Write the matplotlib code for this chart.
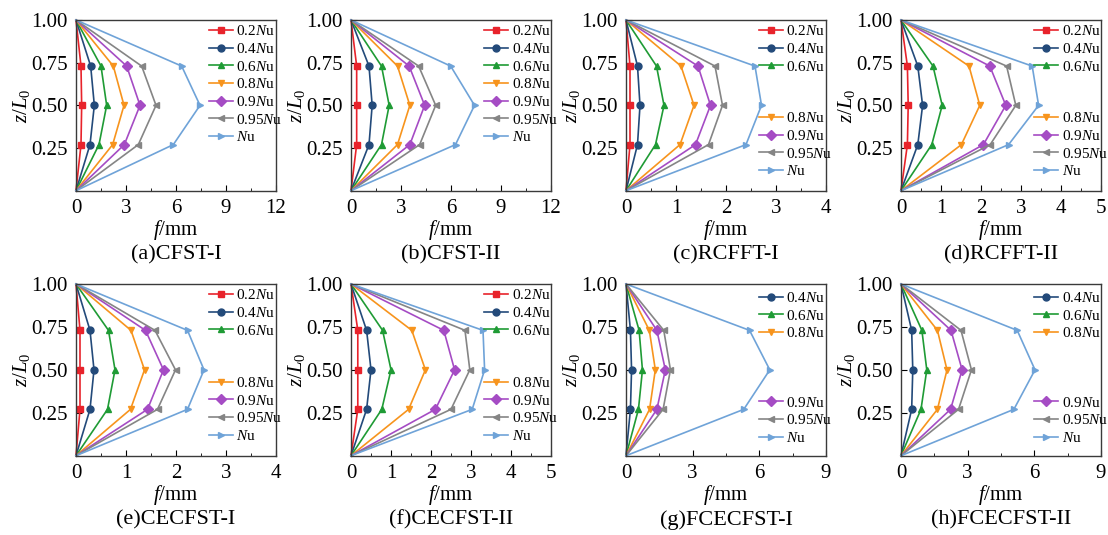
"""Lateral deflection profiles along column height, 8 specimen types."""
import numpy as np
import matplotlib
matplotlib.use("Agg")
import matplotlib.pyplot as plt
from matplotlib.lines import Line2D
from matplotlib.ticker import MultipleLocator

plt.rcParams.update({
    "font.family": "Liberation Serif",
    "mathtext.fontset": "custom",
    "mathtext.rm": "Liberation Serif",
    "mathtext.it": "Liberation Serif:italic",
    "font.size": 15,
    "axes.linewidth": 1.0,
    "axes.edgecolor": "#3a3a3a",
    "xtick.direction": "in",
    "ytick.direction": "in",
})

# relative height of the measuring points
Z_POINTS = [0.0, 0.27, 0.50, 0.73, 1.0]

LEVELS_ALL = ["0.2", "0.4", "0.6", "0.8", "0.9", "0.95", ""]
LEVELS_FC = ["0.4", "0.6", "0.8", "0.9", "0.95", ""]

COLORS = {"0.2": "#e8232b", "0.4": "#234a7a", "0.6": "#1f9b35", "0.8": "#f7941d",
          "0.9": "#a54cc4", "0.95": "#858585", "": "#6fa3d8"}
MARKERS = {"0.2": "s", "0.4": "o", "0.6": "^", "0.8": "v",
           "0.9": "D", "0.95": "<", "": ">"}

# deflection f (mm) at Z_POINTS, one row per load level
CFST_I = [
    [0, 0.30, 0.34, 0.30, 0],
    [0, 0.84, 1.10, 0.88, 0],
    [0, 1.38, 1.84, 1.50, 0],
    [0, 2.20, 2.88, 2.24, 0],
    [0, 2.90, 3.84, 3.04, 0],
    [0, 3.74, 4.80, 3.94, 0],
    [0, 5.84, 7.44, 6.34, 0],
]
CFST_II = [
    [0, 0.34, 0.34, 0.34, 0],
    [0, 1.08, 1.27, 1.08, 0],
    [0, 1.83, 2.29, 1.83, 0],
    [0, 2.79, 3.53, 2.79, 0],
    [0, 3.53, 4.42, 3.49, 0],
    [0, 4.12, 5.08, 4.06, 0],
    [0, 6.27, 7.41, 5.98, 0],
]
RCFFT_I = [
    [0, 0.08, 0.08, 0.08, 0],
    [0, 0.23, 0.28, 0.23, 0],
    [0, 0.59, 0.76, 0.61, 0],
    [0, 1.08, 1.36, 1.10, 0],
    [0, 1.39, 1.69, 1.44, 0],
    [0, 1.65, 1.93, 1.78, 0],
    [0, 2.40, 2.71, 2.58, 0],
]
RCFFT_II = [
    [0, 0.16, 0.18, 0.16, 0],
    [0, 0.42, 0.54, 0.42, 0],
    [0, 0.77, 1.03, 0.80, 0],
    [0, 1.51, 1.97, 1.70, 0],
    [0, 2.06, 2.62, 2.22, 0],
    [0, 2.23, 2.87, 2.64, 0],
    [0, 2.69, 3.44, 3.28, 0],
]
CECFST_I = [
    [0, 0.08, 0.08, 0.08, 0],
    [0, 0.28, 0.36, 0.28, 0],
    [0, 0.63, 0.78, 0.65, 0],
    [0, 1.09, 1.37, 1.10, 0],
    [0, 1.43, 1.75, 1.39, 0],
    [0, 1.63, 1.99, 1.58, 0],
    [0, 2.23, 2.56, 2.23, 0],
]
CECFST_II = [
    [0, 0.17, 0.17, 0.17, 0],
    [0, 0.39, 0.50, 0.39, 0],
    [0, 0.77, 1.00, 0.79, 0],
    [0, 1.44, 1.86, 1.52, 0],
    [0, 2.11, 2.59, 2.32, 0],
    [0, 2.50, 2.97, 2.85, 0],
    [0, 3.03, 3.34, 3.30, 0],
]
FCECFST_I = [
    [0, 0.20, 0.25, 0.20, 0],
    [0, 0.56, 0.74, 0.59, 0],
    [0, 1.06, 1.32, 1.05, 0],
    [0, 1.39, 1.77, 1.39, 0],
    [0, 1.67, 2.00, 1.70, 0],
    [0, 5.30, 6.47, 5.56, 0],
]
FCECFST_II = [
    [0, 0.48, 0.53, 0.48, 0],
    [0, 0.90, 1.16, 0.94, 0],
    [0, 1.64, 2.07, 1.64, 0],
    [0, 2.23, 2.75, 2.25, 0],
    [0, 2.59, 3.17, 2.70, 0],
    [0, 5.08, 6.03, 5.23, 0],
]

PANELS = [
    ("(a)CFST-I", CFST_I, LEVELS_ALL, 12, 3, None),
    ("(b)CFST-II", CFST_II, LEVELS_ALL, 12, 3, None),
    ("(c)RCFFT-I", RCFFT_I, LEVELS_ALL, 4, 1, 3),
    ("(d)RCFFT-II", RCFFT_II, LEVELS_ALL, 5, 1, 3),
    ("(e)CECFST-I", CECFST_I, LEVELS_ALL, 4, 1, 3),
    ("(f)CECFST-II", CECFST_II, LEVELS_ALL, 5, 1, 3),
    ("(g)FCECFST-I", FCECFST_I, LEVELS_FC, 9, 3, 3),
    ("(h)FCECFST-II", FCECFST_II, LEVELS_FC, 9, 3, 3),
]


def level_label(lv):
    return lv + r"$\mathit{N}$u"


def legend_handle(lv):
    return Line2D([], [], color=COLORS[lv], marker=MARKERS[lv], lw=1.2, ms=5)


fig = plt.figure(figsize=(11.08, 5.35), dpi=100)
lefts = [76, 351, 626, 901]
rows = [(20.0, 190.7), (284.0, 455.7)]
captions_y = [255, 520]
W, H = 1108.0, 535.0

for i, (title, data, levels, xmax, xstep, split) in enumerate(PANELS):
    r, c = divmod(i, 4)
    top, bot = rows[r]
    ax = fig.add_axes([lefts[c] / W, 1 - bot / H, 200 / W, (bot - top) / H])
    z = np.array(Z_POINTS)
    for lv, f in zip(levels, data):
        f = np.array(f, dtype=float)
        ax.plot(f, z, color=COLORS[lv], lw=1.2, clip_on=False)
        ax.plot(f[1:4], z[1:4], ls="none", marker=MARKERS[lv], ms=5,
                color=COLORS[lv])
    ax.set_xlim(0, xmax)
    ax.set_ylim(0, 1.0)
    ax.xaxis.set_major_locator(MultipleLocator(xstep))
    ax.xaxis.set_minor_locator(MultipleLocator(xstep / 2))
    ax.set_yticks([0.25, 0.50, 0.75, 1.00])
    ax.set_yticklabels(["0.25", "0.50", "0.75", "1.00"])
    ax.tick_params(axis="both", which="major", length=4, labelsize=15, pad=6)
    ax.tick_params(axis="x", which="minor", length=2.5)
    ax.set_xlabel(r"$f$/mm", fontsize=15, labelpad=0)
    ax.set_ylabel(r"$z/L_0$", fontsize=15, labelpad=-0.5)

    kw = dict(frameon=False, fontsize=11, handlelength=1.6, handletextpad=0.2,
              labelspacing=0.24, borderpad=0, borderaxespad=0, loc="upper left")
    handles = [legend_handle(lv) for lv in levels]
    labels = [level_label(lv) for lv in levels]
    if split is None:
        ax.legend(handles, labels, bbox_to_anchor=(0.665, 0.975), **kw)
    else:
        y1 = 0.975 if len(levels) == 7 else 0.96
        leg1 = ax.legend(handles[:split], labels[:split],
                         bbox_to_anchor=(0.665, y1), **kw)
        ax.add_artist(leg1)
        y2 = 0.465 if len(levels) == 7 else 0.35
        ax.legend(handles[split:], labels[split:],
                  bbox_to_anchor=(0.665, y2), **kw)

    cx = (lefts[c] + 100) / W
    cy = 1 - captions_y[r] / H
    fig.text(cx, cy, title, ha="center", va="center", fontsize=16)

fig.savefig("out.png", dpi=100)
